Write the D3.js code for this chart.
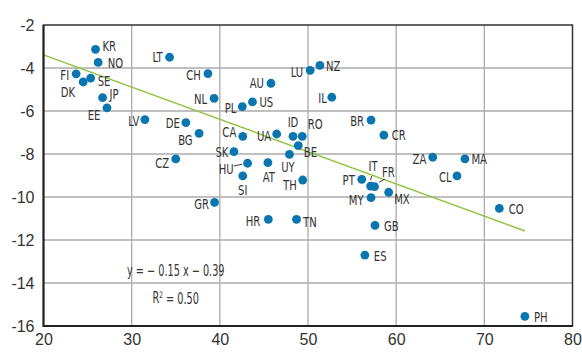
<!DOCTYPE html>
<html>
<head>
<meta charset="utf-8">
<script src="https://cdn.jsdelivr.net/npm/d3@7"></script>
<style>
  html, body { margin: 0; padding: 0; background: #fff; }
  svg { display: block; }
  text { fill: #333; }
</style>
</head>
<body>
<svg id="chart" width="582" height="352"></svg>
<script>
// Country codes and their (x, y) values
const countries = ["KR","NO","FI","DK","SE","JP","EE","LT","LV","DE","BG","CH","NL","AU","PL","US",
  "LU","NZ","IL","CA","UA","ID","RO","BE","UY","SK","CZ","HU","AT","SI","TH","GR","HR","TN",
  "BR","CR","ZA","MA","CL","PT","IT","FR","MY","MX","GB","ES","CO","PH"];
const xValues = [25.9,26.2,23.7,24.5,25.35,26.7,27.2,34.3,31.5,36.15,37.65,38.65,39.35,45.8,42.55,43.7,
  50.25,51.35,52.7,42.6,46.45,48.3,49.35,48.9,47.9,41.6,35.0,43.15,45.45,42.6,49.4,39.4,45.5,48.7,
  57.15,58.6,64.15,67.8,66.9,56.1,57.1,57.55,57.15,59.15,57.6,56.45,71.7,74.6];
const yValues = [-3.13,-3.74,-4.27,-4.65,-4.47,-5.38,-5.85,-3.5,-6.4,-6.54,-7.04,-4.26,-5.41,-4.71,-5.8,-5.58,
  -4.11,-3.88,-5.36,-7.18,-7.07,-7.18,-7.18,-7.61,-8.02,-7.89,-8.23,-8.43,-8.4,-9.02,-9.21,-10.25,-11.04,-11.04,
  -6.42,-7.12,-8.15,-8.23,-9.02,-9.18,-9.49,-9.52,-10.03,-9.78,-11.32,-12.7,-10.53,-15.55];

// Axis ticks
const xTicks = [20, 30, 40, 50, 60, 70, 80];
const yTicks = [-2, -4, -6, -8, -10, -12, -14, -16];

// Fitted regression
const slope = -0.15;
const intercept = -0.39;
const rSquared = 0.50;

// Label placement: anchor, dx, dy (pixels from the dot)
const labelPlacement = {
  KR:["start",7,-3.5], NO:["start",9.5,0], FI:["end",-7,1], DK:["end",-8,10], SE:["start",7,3],
  JP:["start",7,-4], EE:["end",-6.5,6.5], LT:["end",-7,0], LV:["end",-5.5,1], DE:["end",-6,0],
  BG:["end",-6.5,6], CH:["end",-7,1], NL:["end",-7,0], AU:["end",-7,0], PL:["end",-6,1],
  US:["start",7,0], LU:["end",-7,1], NZ:["start",6,0], IL:["end",-5,1], CA:["end",-6.5,-5],
  UA:["end",-5.5,2], ID:["middle",0,-15], RO:["start",5.5,-12.5], BE:["start",5.5,6.5],
  UY:["middle",-1.5,12.5], SK:["end",-5.5,0], CZ:["end",-6.5,4], HU:["end",-14,6], AT:["middle",1,14],
  SI:["middle",0,14], TH:["end",-6,4.5], GR:["end",-5.5,1], HR:["end",-8,1], TN:["start",6.5,2],
  BR:["end",-7,0.5], CR:["start",8,0], ZA:["end",-6.5,2], MA:["start",6.5,0], CL:["end",-5.5,0.5],
  PT:["end",-7,0], IT:["middle",2.5,-20], FR:["start",7.5,-15], MY:["end",-7.5,2], MX:["start",5.5,6],
  GB:["start",9,0.5], ES:["start",9,0.5], CO:["start",9.5,0.5], PH:["start",9,0.5]
};
// Short leader lines for crowded labels: [x1, y1, x2, y2] relative to the dot
const leaders = { HU:[-13.7,2.7,-5.4,1], IT:[1,-10,0,-6], FR:[4.6,-4.4,10.3,-7.7] };

const points = countries.map((c, i) => ({ code: c, x: xValues[i], y: yValues[i] }));

const svg = d3.select("#chart");
const plotLeft = 43.5, plotRight = 572.5, plotTop = 25, plotBottom = 326;

const x = d3.scaleLinear().domain([20, 80]).range([plotLeft, plotRight]);
const y = d3.scaleLinear().domain([-16, -2]).range([plotBottom, plotTop]);

const condensed = "'Liberation Sans Narrow', 'Arial Narrow', 'DejaVu Sans Condensed', sans-serif";

// Gridlines
const grid = svg.append("g");
grid.selectAll("line.v").data(xTicks.slice(1, -1)).join("line")
  .attr("x1", d => x(d)).attr("x2", d => x(d)).attr("y1", plotTop).attr("y2", plotBottom)
  .attr("stroke", "#ababab").attr("stroke-width", 1.3);
grid.selectAll("line.h").data(yTicks.slice(1, -1)).join("line")
  .attr("x1", plotLeft).attr("x2", plotRight).attr("y1", d => y(d)).attr("y2", d => y(d))
  .attr("stroke", "#ababab").attr("stroke-width", 1.3);

// Regression line across the observed x range
const xMax = d3.max(xValues);
svg.append("line")
  .attr("x1", x(20)).attr("y1", y(slope * 20 + intercept))
  .attr("x2", x(xMax)).attr("y2", y(slope * xMax + intercept))
  .attr("stroke", "#8cc43c").attr("stroke-width", 1.4);

// Frame
svg.append("rect")
  .attr("x", plotLeft).attr("y", plotTop).attr("width", plotRight - plotLeft).attr("height", plotBottom - plotTop)
  .attr("fill", "none").attr("stroke", "#333").attr("stroke-width", 1.5);
svg.append("path")
  .attr("d", `M${plotLeft},${plotTop}V${plotBottom}H${plotRight}`)
  .attr("fill", "none").attr("stroke", "#222").attr("stroke-width", 2);

// Axis tick labels (plain hyphen for negatives)
const tickFmt = d => String(d);
const yAxis = d3.axisLeft(y).tickValues(yTicks).tickSize(0).tickPadding(9).tickFormat(tickFmt);
const yg = svg.append("g").attr("transform", `translate(${plotLeft},0)`).call(yAxis);
yg.select(".domain").remove();
yg.selectAll("text").attr("font-family", "'Liberation Sans', Arial, sans-serif")
  .attr("font-size", 16).attr("fill", "#333");

const xAxis = d3.axisBottom(x).tickValues(xTicks).tickSize(0).tickPadding(8).tickFormat(tickFmt);
const xg = svg.append("g").attr("transform", `translate(0,${plotBottom})`).call(xAxis);
xg.select(".domain").remove();
xg.selectAll("text").attr("font-family", "'Liberation Sans', Arial, sans-serif")
  .attr("font-size", 16).attr("fill", "#333");

// Leader lines
svg.append("g").selectAll("line").data(points.filter(p => leaders[p.code])).join("line")
  .attr("x1", p => x(p.x) + leaders[p.code][0]).attr("y1", p => y(p.y) + leaders[p.code][1])
  .attr("x2", p => x(p.x) + leaders[p.code][2]).attr("y2", p => y(p.y) + leaders[p.code][3])
  .attr("stroke", "#333").attr("stroke-width", 1);

// Dots
svg.append("g").selectAll("circle").data(points).join("circle")
  .attr("cx", p => x(p.x)).attr("cy", p => y(p.y)).attr("r", 4.4)
  .attr("fill", "#0a76b0");

// Country labels (narrow lettering)
const labelScale = 0.77;
svg.append("g").selectAll("text").data(points).join("text")
  .attr("transform", p => {
    const pl = labelPlacement[p.code];
    return `translate(${x(p.x) + pl[1]},${y(p.y) + pl[2]}) scale(${labelScale},1)`;
  })
  .attr("text-anchor", p => labelPlacement[p.code][0])
  .attr("dy", "0.36em")
  .attr("font-family", condensed)
  .attr("font-size", 14.5)
  .text(p => p.code);

// Regression equation
const eqX = x(35);
svg.append("text")
  .attr("transform", `translate(${eqX},${y(-13.43)}) scale(0.72,1)`)
  .attr("text-anchor", "middle").attr("dy", "0.36em")
  .attr("font-family", condensed).attr("font-size", 15)
  .text(`y = \u2212 ${Math.abs(slope).toFixed(2)} x \u2212 ${Math.abs(intercept).toFixed(2)}`);
const r2 = svg.append("text")
  .attr("transform", `translate(${eqX},${y(-14.68)}) scale(0.72,1)`)
  .attr("text-anchor", "middle").attr("dy", "0.36em")
  .attr("font-family", condensed).attr("font-size", 15);
r2.append("tspan").text("R");
r2.append("tspan").attr("font-size", 9).attr("dy", "-0.6em").text("2");
r2.append("tspan").attr("dy", "0.4em").text(` = ${rSquared.toFixed(2)}`);
</script>
</body>
</html>
